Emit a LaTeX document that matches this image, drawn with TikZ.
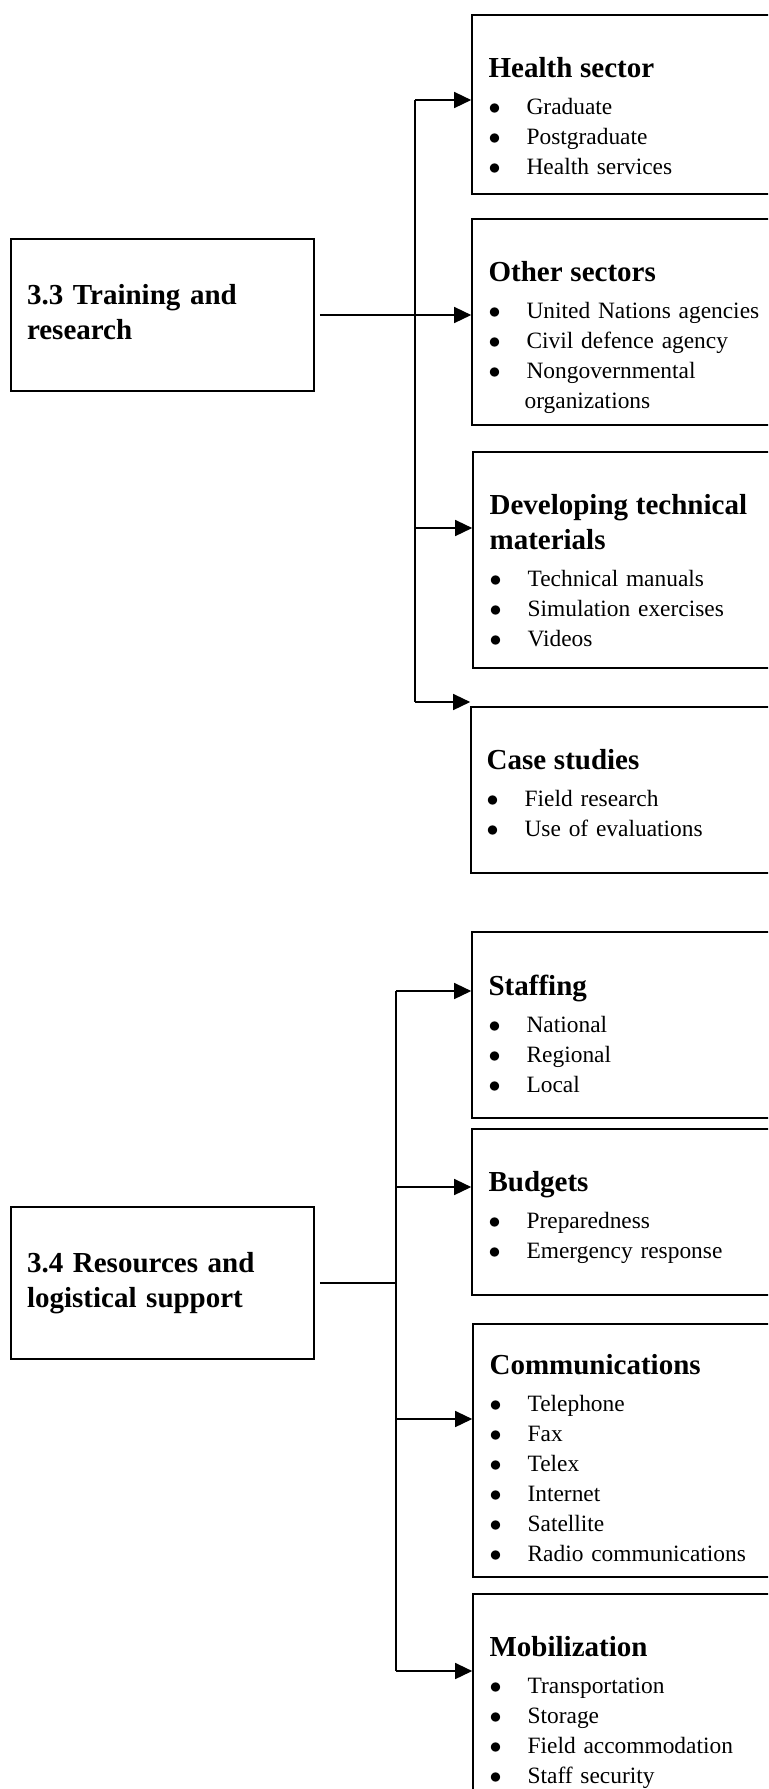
\documentclass[tikz,border=0pt]{standalone}
\usepackage{fontspec}
\setmainfont{Liberation Serif}
\usetikzlibrary{arrows.meta,positioning,fit}
\newcommand{\hd}[1]{\noindent{\fontsize{14.5}{17.5}\selectfont\bfseries #1\par}\vspace{3.5pt}}
\newcommand{\itm}[1]{\par\noindent\makebox[19pt][l]{$\bullet$}#1}
\newcommand{\cont}[1]{\par\noindent\hspace*{18pt}#1}
\tikzset{
  frame/.style={draw,line width=0.8pt,inner sep=0pt},
  mainbox/.style={draw,line width=0.8pt,minimum width=151.5pt,minimum height=76pt,
    text width=135.5pt,inner sep=8pt,align=left,font=\fontsize{14.5}{17.5}\selectfont\bfseries},
  body/.style={inner sep=0pt,text width=170pt,align=left,font=\fontsize{11.7}{15}\selectfont},
  link/.style={line width=0.7pt},
  arr/.style={line width=0.7pt,-{Triangle[length=8.5pt,width=8pt]}}
}
\begin{document}
\begin{tikzpicture}[x=0.5pt,y=-0.5pt]
\useasboundingbox (0,0) rectangle (768,1789);
\clip (0,0) rectangle (768,1789);
% 3.3
\node[mainbox] (m33) at (162.5,315) {3.3 Training and\\research\vphantom{p}};
\node[frame,fit={(472,15) (800,194)}] (hs) {};
\node[body,below right=21.5pt and 8.5pt of hs.north west] (hstxt)
  {\hd{Health sector}\itm{Graduate}\itm{Postgraduate}\itm{Health services}};
\node[frame,fit={(472,219) (800,425)}] (os) {};
\node[body,below right=21.5pt and 8.5pt of os.north west] (ostxt)
  {\hd{Other sectors}\itm{United Nations agencies}\itm{Civil defence agency}
   \itm{Nongovernmental}\cont{organizations}};
\node[frame,fit={(473,452) (800,668)}] (dm) {};
\node[body,below right=21.5pt and 8.5pt of dm.north west] (dmtxt)
  {\hd{Developing technical\\materials}\itm{Technical manuals}\itm{Simulation exercises}\itm{Videos}};
\node[frame,fit={(471,707) (800,873)}] (cs) {};
\node[body,below right=21.5pt and 8pt of cs.north west] (cstxt)
  {\hd{Case studies}\itm{Field research}\itm{Use of evaluations}};
\coordinate (ta1) at (415,100);
\coordinate (ta3) at (415,528);
\coordinate (ta4) at (415,702);
\draw[link] (ta1) -- (ta4);
\draw[arr] (ta1) -- (ta1 -| hs.west);
\draw[arr,shorten <=2.5pt] (m33.east) -- (m33.east -| os.west);
\draw[arr] (ta3) -- (ta3 -| dm.west);
\draw[arr] (ta4) -- (ta4 -| cs.west);
% 3.4
\node[mainbox] (m34) at (162.5,1283) {3.4 Resources and\\logistical support};
\node[frame,fit={(472,932) (800,1118)}] (st) {};
\node[body,below right=21.5pt and 8.5pt of st.north west] (sttxt)
  {\hd{Staffing}\itm{National}\itm{Regional}\itm{Local}};
\node[frame,fit={(472,1129) (800,1295)}] (bu) {};
\node[body,below right=21.5pt and 8.5pt of bu.north west] (butxt)
  {\hd{Budgets}\itm{Preparedness}\itm{Emergency response}};
\node[frame,fit={(473,1324) (800,1577)}] (co) {};
\node[body,below right=15.5pt and 8.5pt of co.north west] (cotxt)
  {\hd{Communications}\itm{Telephone}\itm{Fax}\itm{Telex}\itm{Internet}\itm{Satellite}
   \itm{Radio communications}};
\node[frame,fit={(473,1594) (800,1900)}] (mo) {};
\node[body,below right=21.5pt and 8.5pt of mo.north west] (motxt)
  {\hd{Mobilization}\itm{Transportation}\itm{Storage}\itm{Field accommodation}\itm{Staff security}};
\coordinate (tb1) at (396,991);
\coordinate (tb2) at (396,1187);
\coordinate (tb3) at (396,1419);
\coordinate (tb4) at (396,1671);
\draw[link] (tb1) -- (tb4);
\draw[link,shorten <=2.5pt] (m34.east) -- (m34.east -| tb1);
\draw[arr] (tb1) -- (tb1 -| st.west);
\draw[arr] (tb2) -- (tb2 -| bu.west);
\draw[arr] (tb3) -- (tb3 -| co.west);
\draw[arr] (tb4) -- (tb4 -| mo.west);
\end{tikzpicture}
\end{document}
